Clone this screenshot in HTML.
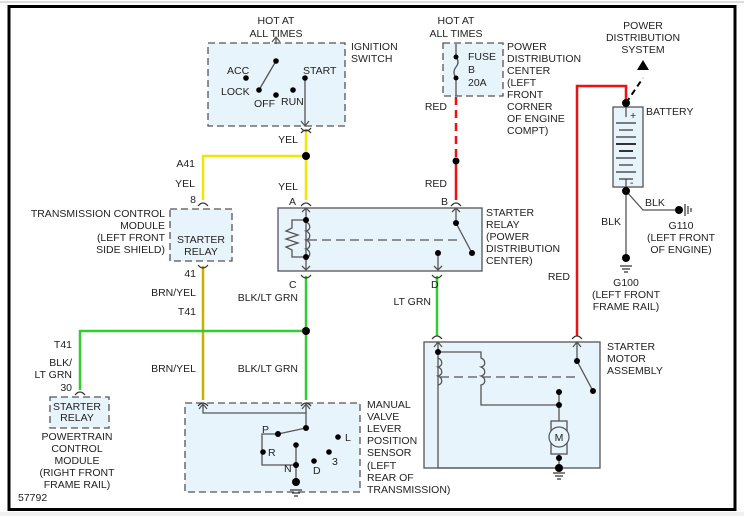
<!DOCTYPE html>
<html><head><meta charset="utf-8"><style>
html,body{margin:0;padding:0;background:#fff;width:744px;height:516px;overflow:hidden}
svg{display:block}
text{font-family:"Liberation Sans",Arial,sans-serif;font-size:10.5px;fill:#222}
</style></head><body>
<svg width="744" height="516" viewBox="0 0 744 516" xmlns="http://www.w3.org/2000/svg">
<rect x="0" y="0" width="744" height="516" fill="#fff"/>
<line x1="0" y1="2" x2="744" y2="2" stroke="#ddd" stroke-width="2"/>
<rect x="0" y="512" width="744" height="4" fill="#f0f0f0"/>
<rect x="9" y="6.5" width="726" height="503" fill="none" stroke="#000" stroke-width="3"/>

<!-- boxes -->
<g stroke="#555" stroke-width="1.3" fill="#e8f4fc">
<rect x="208" y="43" width="137" height="83" stroke-dasharray="7,4"/>
<rect x="443" y="43" width="60" height="53" stroke-dasharray="7,4"/>
<rect x="170" y="209" width="62" height="52" stroke-dasharray="7,4"/>
<rect x="278" y="208" width="204" height="63"/>
<rect x="50" y="397" width="59" height="31" stroke-dasharray="7,4"/>
<rect x="424" y="342" width="176" height="126"/>
<rect x="185" y="403" width="175" height="89" stroke-dasharray="7,4"/>
<rect x="613" y="107" width="30" height="80"/>
</g>

<!-- colored wires -->
<g fill="none" stroke-width="2.5">
<path d="M306 132 V200 M203 200 V156 H306" stroke="#f2e600"/>
<path d="M203 266 V400" stroke="#c8b000"/>
<path d="M306 276 V400 M80 390 V331 H306" stroke="#33cc33"/>
<path d="M437 276 V336" stroke="#33cc33"/>
<path d="M456 97 V158" stroke="#ee1111" stroke-dasharray="8,5"/>
<path d="M456 163 V200" stroke="#ee1111"/>
<path d="M577 336 V86 H626 V100" stroke="#ee1111"/>
</g>
<g fill="none" stroke="#333" stroke-width="1.2">
<!-- connector arcs -->
<path d="M301 133 Q306 127 311 133 M301 128 Q306 134 311 128"/>
<path d="M198 206 Q203 200 208 206 M198 265 Q203 271 208 265"/>
<path d="M301 206 Q306 200 311 206 M451 206 Q456 200 461 206 M301 275 Q306 281 311 275 M432 275 Q437 281 442 275"/>
<path d="M75 395 Q80 389 85 395 M432 339 Q437 333 442 339 M572 339 Q577 333 582 339"/>
<path d="M198 406 Q203 400 208 406 M301 406 Q306 400 311 406"/>
</g>
<g fill="none" stroke="#555" stroke-width="1.3">
<!-- ignition -->
<path d="M276 44 V38 M272 42 L276 37 L280 42"/>
<path d="M276 61 L259 90"/>
<path d="M305 78 V125 M301 121 L305 126 L309 121"/>
<!-- fuse -->
<path d="M456 44 V57 M456 78 V96 M456 57 Q460 62 456 67 Q452 72 456 78"/>
<!-- TCM relay arrows drawn above -->
<!-- starter relay -->
<path d="M306 208 V256 M302 212 L306 208 L310 212 M302 266 L306 270 L310 266 M306 256 V270"/>
<path d="M306 220 H292 V228 L286 231 L298 235 L286 239 L298 243 L286 247 L292 250 V257 H306"/>
<path d="M306 222 c5 2 5 8 0 9 c5 2 5 8 0 9 c5 2 5 8 0 9 c5 2 5 8 0 9"/>
<path d="M308 240 H460" stroke-dasharray="9,5"/>
<path d="M456 208 V223 L472 253 M452 212 L456 208 L460 212"/>
<path d="M438 253 V270 M434 266 L438 270 L442 266"/>
<!-- starter motor -->
<path d="M438 342 V468 H559 M434 347 L438 342 L442 347"/>
<path d="M438 352 H481 V358 c5 2 5 8 0 9 c5 2 5 8 0 9 c5 2 5 8 0 9 V405 H559 V392"/>
<path d="M438 358 c5 2 5 8 0 9 c5 2 5 8 0 9 c5 2 5 8 0 9"/>
<path d="M440 377 H578" stroke-dasharray="9,5"/>
<path d="M577 342 V361 L593 391 M573 347 L577 342 L581 347"/>
<path d="M559 405 V423 M559 452 V468"/>
<rect x="551" y="421" width="16" height="33" fill="#e8f4fc"/>
<!-- manual valve -->
<path d="M203 404 V413 H306 V404 M199 409 L203 404 L207 409 M302 409 L306 404 L310 409"/>
<path d="M306 413 V428 L278 434 H262 V465 H296 V445 M296 465 V482"/>
<!-- battery -->
<path d="M626 107 V117 M626 179 V191"/>
<path d="M626 191 L643 210 H675 M626 191 V258"/>
<path d="M626 103 L643 78" stroke="#000" stroke-width="2" stroke-dasharray="6,4"/>
</g>
<polygon points="637,70 649,70 643,60" fill="#000"/>
<!-- battery plates -->
<g stroke="#333" stroke-width="1.2">
<line x1="616" y1="123" x2="636" y2="123"/><line x1="619" y1="130" x2="633" y2="130"/>
<line x1="616" y1="137" x2="636" y2="137"/><line x1="616" y1="144" x2="636" y2="144" stroke-width="2"/>
<line x1="619" y1="151" x2="633" y2="151" stroke-width="2"/><line x1="616" y1="158" x2="636" y2="158"/>
<line x1="619" y1="165" x2="633" y2="165"/><line x1="616" y1="172" x2="636" y2="172"/>
<line x1="619" y1="179" x2="633" y2="179"/>
</g>
<circle cx="559" cy="437" r="10" fill="#e8f4fc" stroke="#555" stroke-width="1.2"/>
<text x="559" y="441" text-anchor="middle" font-size="11">M</text>

<!-- grounds -->
<g stroke="#333" stroke-width="1.2">
<path d="M290 490 H302 M292 493 H300 M294 496 H298"/>
<path d="M553 473 H565 M555 476 H563 M557 479 H561"/>
<path d="M620 266 H632 M622 269 H630 M624 272 H628"/>
<path d="M685 204 V216 M688 206 V214 M691 208 V212"/>
</g>

<!-- dots -->
<g fill="#000">
<circle cx="276" cy="61" r="2.8"/><circle cx="259" cy="90" r="2.8"/><circle cx="246" cy="78" r="2.8"/>
<circle cx="276" cy="95" r="2.8"/><circle cx="293" cy="90" r="2.8"/><circle cx="305" cy="78" r="2.8"/>
<circle cx="306" cy="156" r="4"/><circle cx="306" cy="331" r="4"/><circle cx="456" cy="161" r="3.5"/>
<circle cx="456" cy="57" r="2.5"/><circle cx="456" cy="78" r="2.5"/>
<circle cx="306" cy="220" r="3"/><circle cx="306" cy="257" r="3"/><circle cx="456" cy="223" r="3"/><circle cx="472" cy="253" r="3"/><circle cx="438" cy="253" r="3"/>
<circle cx="438" cy="352" r="3"/><circle cx="577" cy="361" r="3"/><circle cx="593" cy="391" r="3"/>
<circle cx="559" cy="392" r="3"/><circle cx="559" cy="405" r="3"/><circle cx="559" cy="458" r="3"/><circle cx="559" cy="468" r="4"/>
<circle cx="306" cy="428" r="3"/><circle cx="278" cy="434" r="3"/><circle cx="263" cy="452" r="2.8"/><circle cx="296" cy="445" r="2.8"/>
<circle cx="296" cy="465" r="3"/><circle cx="314" cy="461" r="2.8"/><circle cx="329" cy="452" r="2.8"/><circle cx="338" cy="437" r="2.8"/>
<circle cx="296" cy="482" r="4"/>
<circle cx="626" cy="103" r="4"/><circle cx="626" cy="191" r="4"/><circle cx="626" cy="258" r="4"/><circle cx="679" cy="210" r="4"/>
</g>

<!-- labels -->
<g text-anchor="middle">
<text x="276" y="24">HOT AT</text><text x="276" y="37">ALL TIMES</text>
<text x="456" y="24">HOT AT</text><text x="456" y="37">ALL TIMES</text>
<text x="643" y="29">POWER</text><text x="643" y="41">DISTRIBUTION</text><text x="643" y="53">SYSTEM</text>
<text x="201" y="243">STARTER</text><text x="201" y="255">RELAY</text>
<text x="77" y="410">STARTER</text><text x="77" y="421">RELAY</text>
<text x="77" y="440">POWERTRAIN</text><text x="77" y="452">CONTROL</text><text x="77" y="464">MODULE</text><text x="77" y="476">(RIGHT FRONT</text><text x="77" y="488">FRAME RAIL)</text>
<text x="626" y="286">G100</text><text x="626" y="298">(LEFT FRONT</text><text x="626" y="310">FRAME RAIL)</text>
<text x="681" y="229">G110</text><text x="681" y="241">(LEFT FRONT</text><text x="681" y="253">OF ENGINE)</text>
</g>
<g text-anchor="end">
<text x="165" y="217">TRANSMISSION CONTROL</text><text x="165" y="229">MODULE</text><text x="165" y="241">(LEFT FRONT</text><text x="165" y="253">SIDE SHIELD)</text>
<text x="195" y="167">A41</text><text x="195" y="187">YEL</text><text x="196" y="203">8</text>
<text x="196" y="277">41</text><text x="196" y="296">BRN/YEL</text><text x="196" y="315">T41</text>
<text x="196" y="372">BRN/YEL</text>
<text x="298" y="143">YEL</text><text x="298" y="190">YEL</text>
<text x="298" y="301">BLK/LT GRN</text><text x="298" y="372">BLK/LT GRN</text>
<text x="72" y="348">T41</text><text x="72" y="366">BLK/</text><text x="72" y="378">LT GRN</text><text x="72" y="391">30</text>
<text x="447" y="110">RED</text><text x="447" y="187">RED</text>
<text x="431" y="305">LT GRN</text>
<text x="570" y="280">RED</text>
<text x="621" y="225">BLK</text>
</g>
<text x="289" y="205">A</text><text x="441" y="205">B</text><text x="289" y="288">C</text><text x="431" y="288">D</text>
<text x="227" y="74">ACC</text><text x="221" y="95">LOCK</text><text x="254" y="107">OFF</text><text x="281" y="105">RUN</text><text x="303" y="74">START</text>
<text x="351" y="50">IGNITION</text><text x="351" y="62">SWITCH</text>
<text x="468" y="60">FUSE</text><text x="468" y="73">B</text><text x="468" y="86">20A</text>
<text x="507" y="50">POWER</text><text x="507" y="62">DISTRIBUTION</text><text x="507" y="74">CENTER</text><text x="507" y="86">(LEFT</text><text x="507" y="98">FRONT</text><text x="507" y="110">CORNER</text><text x="507" y="122">OF ENGINE</text><text x="507" y="134">COMPT)</text>
<text x="646" y="115">BATTERY</text><text x="630" y="119" font-size="10">+</text><text x="630" y="186" font-size="10">-</text>
<text x="645" y="206">BLK</text>
<text x="486" y="216">STARTER</text><text x="486" y="228">RELAY</text><text x="486" y="240">(POWER</text><text x="486" y="252">DISTRIBUTION</text><text x="486" y="264">CENTER)</text>
<text x="607" y="350">STARTER</text><text x="607" y="362">MOTOR</text><text x="607" y="374">ASSEMBLY</text>
<text x="367" y="408">MANUAL</text><text x="367" y="420">VALVE</text><text x="367" y="432">LEVER</text><text x="367" y="444">POSITION</text><text x="367" y="456">SENSOR</text><text x="367" y="469">(LEFT</text><text x="367" y="481">REAR OF</text><text x="367" y="493">TRANSMISSION)</text>
<text x="262" y="433">P</text><text x="268" y="456">R</text><text x="284" y="472">N</text><text x="313" y="474">D</text><text x="332" y="465">3</text><text x="345" y="441">L</text>
<text x="18" y="501">57792</text>
</svg>
</body></html>
